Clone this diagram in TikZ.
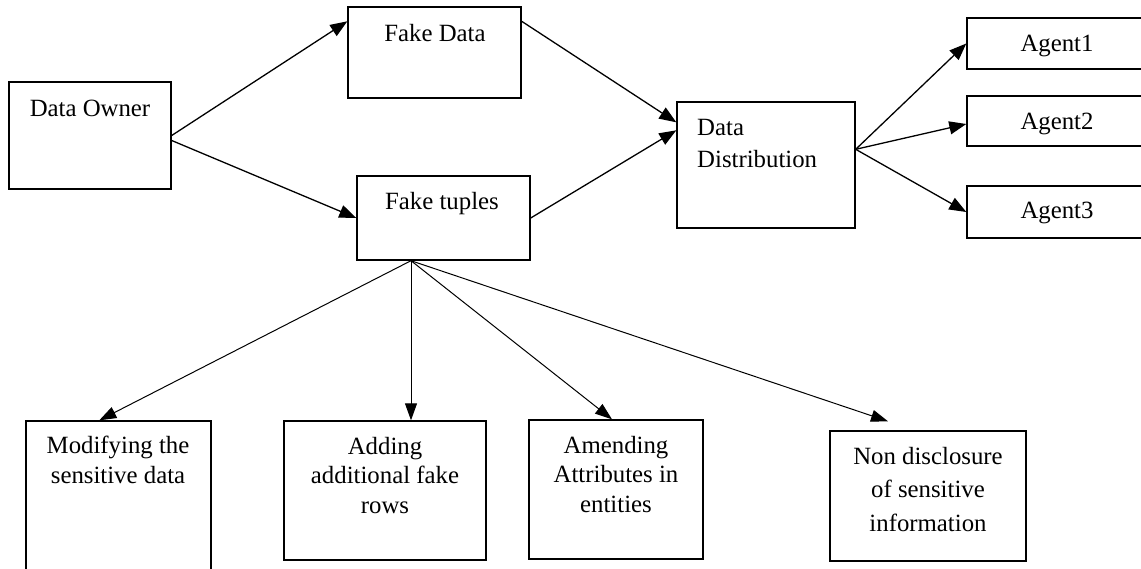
\documentclass[tikz,border=0pt]{standalone}
\usepackage{fontspec}
\setmainfont{Liberation Serif}
\usetikzlibrary{arrows.meta}
\begin{document}
\begin{tikzpicture}[x=1pt,y=-1pt,
  box/.style={draw, line width=1.4pt, inner sep=0pt, fill=white},
  lbl/.style={inner sep=0pt, anchor=base, align=center, font=\fontsize{24.8}{29.5}\selectfont},
  conn/.style={line width=1.3pt, -{Triangle[length=17pt,width=13pt]}},
  thin/.style={line width=1pt, -{Triangle[length=17pt,width=12pt]}}]
\useasboundingbox (0,0) rectangle (1141,568);
\clip (0,0) rectangle (1141,568);
\fill[white] (0,0) rectangle (1141,568);
% boxes
\node[box, minimum width=162pt, minimum height=107pt] (own) at (90,135.5) {};
\node[box, minimum width=173pt, minimum height=91pt] (fd) at (434.5,52.5) {};
\node[box, minimum width=173pt, minimum height=84pt] (ft) at (443.5,218) {};
\node[box, minimum width=178pt, minimum height=126pt] (dd) at (766,165) {};
\node[box, minimum width=183pt, minimum height=51pt] (a1) at (1058.5,43.5) {};
\node[box, minimum width=183pt, minimum height=50pt] (a2) at (1058.5,121) {};
\node[box, minimum width=183pt, minimum height=52pt] (a3) at (1058.5,212) {};
\node[box, minimum width=185pt, minimum height=159pt] (mod) at (118.5,500.5) {};
\node[box, minimum width=202pt, minimum height=139pt] (add) at (385,490.5) {};
\node[box, minimum width=174pt, minimum height=139pt] (amd) at (616,489.5) {};
\node[box, minimum width=196pt, minimum height=130pt] (nd) at (928,496) {};
% labels (base anchor = baseline of the last line)
\node[lbl] (ownT) at (90,116) {Data Owner};
\node[lbl] (fdT) at (435,41) {Fake Data};
\node[lbl] (ftT) at (442,209) {Fake tuples};
\node[lbl, anchor=base west, align=left, font=\fontsize{24.8}{32}\selectfont] (ddT) at (697,167) {Data\\Distribution};
\node[lbl] (a1T) at (1057,51) {Agent1};
\node[lbl] (a2T) at (1057,129) {Agent2};
\node[lbl] (a3T) at (1057,218) {Agent3};
\node[lbl] (modT) at (118,483) {Modifying the\\sensitive data};
\node[lbl] (addT) at (385,513) {Adding\\additional fake\\rows};
\node[lbl] (amdT) at (616,512) {Amending\\Attributes in\\entities};
\node[lbl, font=\fontsize{24.8}{33.5}\selectfont] (ndT) at (928,531) {Non disclosure\\of sensitive\\information};
% connectors
\draw[conn] (own.east) -- ([yshift=-15pt]fd.north west);
\draw[conn] ([yshift=-5pt]own.east) -- (ft.west);
\draw[conn] ([yshift=-15pt]fd.north east) -- ([yshift=-21pt]dd.north west);
\draw[conn] (ft.east) -- ([yshift=-29pt]dd.north west);
\draw[conn] ([yshift=-48pt]dd.north east) -- (a1.west);
\draw[conn] ([yshift=-48pt]dd.north east) -- ([yshift=-3pt]a2.west);
\draw[conn] ([yshift=-48pt]dd.north east) -- (a3.west);
\draw[thin] ([xshift=-32.5pt]ft.south) -- ([xshift=74pt]mod.north west);
\draw[thin] ([xshift=-32.5pt]ft.south) -- ([xshift=26pt]add.north);
\draw[thin] ([xshift=-32.5pt]ft.south) -- ([xshift=-4pt]amd.north);
\draw[thin] ([xshift=-32.5pt]ft.south) -- ([xshift=-40pt,yshift=9pt]nd.north);
\end{tikzpicture}
\end{document}
